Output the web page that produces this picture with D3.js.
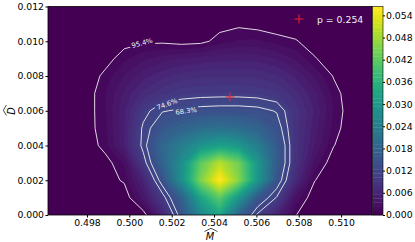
<!DOCTYPE html>
<html>
<head>
<meta charset="utf-8">
<script src="https://cdn.jsdelivr.net/npm/d3@7"></script>
<style>
  body { margin: 0; background: #fff; }
  text { font-family: "DejaVu Sans", sans-serif; }
</style>
</head>
<body>
<div id="chart"></div>
<script>
// density grid: columns step in M, rows step in D (row 0 is D = 0)
var mStart = 0.49616, mStep = 0.0009;
var dStart = 0, dStep = 0.001;

var row0  = [0, 0, 0, 0, 0, 0.0002, 0.006, 0.0145, 0.026, 0.033, 0.018, 0.0105, 0.006, 0.0012, 0, 0, 0, 0];
var row1  = [0, 0, 0, 0, 0, 0.004, 0.0098, 0.0175, 0.033, 0.042, 0.030, 0.0158, 0.0108, 0.003, 0, 0, 0, 0];
var row2  = [0, 0, 0, 0.0003, 0.0014, 0.006, 0.0145, 0.028, 0.045, 0.0564, 0.046, 0.030, 0.015, 0.007, 0.0012, 0, 0, 0];
var row3  = [0, 0, 0, 0.0004, 0.0025, 0.0098, 0.0178, 0.028, 0.042, 0.050, 0.044, 0.030, 0.0165, 0.0085, 0.003, 0, 0, 0];
var row4  = [0, 0, 0, 0.0018, 0.0055, 0.0118, 0.019, 0.024, 0.029, 0.032, 0.030, 0.024, 0.0165, 0.0085, 0.0045, 0.0012, 0, 0];
var row5  = [0, 0, 0.0004, 0.002, 0.0055, 0.0115, 0.0155, 0.018, 0.020, 0.021, 0.020, 0.018, 0.0145, 0.0085, 0.005, 0.0018, 0, 0];
var row6  = [0, 0, 0.0003, 0.0022, 0.0055, 0.010, 0.0128, 0.0134, 0.0139, 0.0141, 0.0141, 0.0138, 0.0128, 0.0085, 0.0055, 0.0022, 0, 0];
var row7  = [0, 0, 0.0003, 0.0022, 0.0048, 0.0072, 0.0088, 0.0098, 0.0101, 0.0102, 0.0102, 0.0100, 0.0092, 0.0072, 0.0048, 0.0018, 0, 0];
var row8  = [0, 0, 0, 0.0016, 0.0035, 0.0052, 0.0064, 0.0072, 0.0076, 0.0078, 0.0078, 0.0076, 0.0070, 0.0055, 0.0032, 0.0010, 0, 0];
var row9  = [0, 0, 0, 0.0004, 0.0020, 0.0032, 0.0040, 0.0046, 0.0050, 0.0053, 0.0054, 0.0052, 0.0045, 0.0032, 0.0013, 0, 0, 0];
var row10 = [0, 0, 0, 0, 0.0005, 0.0008, 0.0008, 0.0004, 0.0006, 0.0018, 0.0024, 0.0025, 0.0019, 0.0013, 0.0002, 0, 0, 0];
var row11 = [0, 0, 0, 0, 0, 0, 0, 0, 0, 0.0005, 0.0008, 0.00044, 0, 0, 0, 0, 0, 0];
var row12 = [0, 0, 0, 0, 0, 0, 0, 0, 0, 0, 0, 0, 0, 0, 0, 0, 0, 0];
var density = [row0, row1, row2, row3, row4, row5, row6, row7, row8, row9, row10, row11, row12];

// credible region contours
var lineLevels = [0.00115, 0.011, 0.013];
var lineLabels = ["95.4%", "74.6%", "68.3%"];
var labelM = [0.50060, 0.50178, 0.50268];
var labelD = [0.00990, 0.00639, 0.00599];
var labelAngle = [-15, -20, -8];

// best point
var pointM = 0.50475, pointD = 0.00679;
var legendText = "p = 0.254";

var xTicks = [0.498, 0.500, 0.502, 0.504, 0.506, 0.508, 0.510];
var yTicks = [0, 0.002, 0.004, 0.006, 0.008, 0.010, 0.012];
var cbTicks = [0, 0.006, 0.012, 0.018, 0.024, 0.030, 0.036, 0.042, 0.048, 0.054];
var zMax = 0.0564, nLevels = 50;

var W = 415, H = 242;
var plot = {left: 48, right: 372, top: 6.5, bottom: 215};
var cb = {left: 372.5, right: 383};

var svg = d3.select("#chart").append("svg")
    .attr("width", W)
    .attr("height", H);

var nx = density[0].length, ny = density.length;
var x = d3.scaleLinear().domain([mStart, mStart + (nx - 1) * mStep]).range([plot.left, plot.right]);
var y = d3.scaleLinear().domain([dStart, dStart + (ny - 1) * dStep]).range([plot.bottom, plot.top]);

var defs = svg.append("defs");
defs.append("clipPath").attr("id", "plotClip")
  .append("rect")
    .attr("x", plot.left).attr("y", plot.top)
    .attr("width", plot.right - plot.left).attr("height", plot.bottom - plot.top);

// grid coords -> screen (d3.contours puts sample k at k + 0.5)
var gridPath = d3.geoPath(d3.geoTransform({
  point: function(gx, gy) {
    this.stream.point(x(mStart + (gx - 0.5) * mStep), y(dStart + (gy - 0.5) * dStep));
  }
}));

var values = [].concat.apply([], density);
var fillLevels = d3.range(nLevels).map(function(k) { return k * zMax / nLevels; });
var color = function(k) { return d3.interpolateViridis(k / (nLevels - 1)); };

var g = svg.append("g").attr("clip-path", "url(#plotClip)");

g.selectAll("path.band")
    .data(d3.contours().size([nx, ny]).thresholds(fillLevels)(values))
  .enter().append("path")
    .attr("class", "band")
    .attr("d", gridPath)
    .attr("fill", function(d, k) { return color(k); })
    .attr("stroke", function(d, k) { return color(k); })
    .attr("stroke-width", 0.3);

// mask out gaps where the contour labels sit
var mask = defs.append("mask").attr("id", "labelGaps")
    .attr("maskUnits", "userSpaceOnUse")
    .attr("x", 0).attr("y", 0).attr("width", W).attr("height", H);
mask.append("rect").attr("width", W).attr("height", H).attr("fill", "white");
lineLabels.forEach(function(t, i) {
  mask.append("rect")
      .attr("transform", "translate(" + x(labelM[i]) + "," + y(labelD[i]) + ") rotate(" + labelAngle[i] + ")")
      .attr("x", -12.5).attr("y", -4.5).attr("width", 25).attr("height", 9)
      .attr("fill", "black");
});

g.append("g").attr("mask", "url(#labelGaps)")
  .selectAll("path.line")
    .data(d3.contours().size([nx, ny]).thresholds(lineLevels)(values))
  .enter().append("path")
    .attr("class", "line")
    .attr("d", gridPath)
    .attr("fill", "none")
    .attr("stroke", "#f2f2f2")
    .attr("stroke-width", 0.9);

lineLabels.forEach(function(t, i) {
  svg.append("text")
      .attr("transform", "translate(" + x(labelM[i]) + "," + y(labelD[i]) + ") rotate(" + labelAngle[i] + ")")
      .attr("text-anchor", "middle")
      .attr("dy", "0.35em")
      .attr("fill", "#f2f2f2")
      .style("font-size", "6.8px")
      .text(t);
});

// red cross for the point
function cross(sel, cx, cy) {
  sel.append("path")
      .attr("d", "M" + (cx - 4.5) + "," + cy + "H" + (cx + 4.5) + "M" + cx + "," + (cy - 4.5) + "V" + (cy + 4.5))
      .attr("stroke", "#e8222a")
      .attr("stroke-width", 1.1);
}
cross(svg, x(pointM), y(pointD));

// legend
cross(svg, 299, 19);
svg.append("text")
    .attr("x", 317).attr("y", 22.5)
    .attr("fill", "#f2f2f2")
    .style("font-size", "9.3px")
    .text(legendText);

// frame
svg.append("rect")
    .attr("x", plot.left).attr("y", plot.top)
    .attr("width", plot.right - plot.left).attr("height", plot.bottom - plot.top)
    .attr("fill", "none").attr("stroke", "#000").attr("stroke-width", 0.8);

// axes
var fmt = d3.format(".3f");
var xAxis = svg.append("g")
    .attr("transform", "translate(0," + plot.bottom + ")")
    .call(d3.axisBottom(x).tickValues(xTicks).tickFormat(fmt).tickSize(2.5).tickPadding(1.5).tickSizeOuter(0));
var yAxis = svg.append("g")
    .attr("transform", "translate(" + plot.left + ",0)")
    .call(d3.axisLeft(y).tickValues(yTicks).tickFormat(fmt).tickSize(2.5).tickPadding(1.5).tickSizeOuter(0));
[xAxis, yAxis].forEach(function(a) {
  a.select(".domain").remove();
  a.selectAll("text").style("font-size", "9.3px").attr("fill", "#000");
});

// axis labels with wide hats
svg.append("text")
    .attr("x", 210).attr("y", 240)
    .attr("text-anchor", "middle")
    .style("font-size", "9.8px").style("font-style", "italic")
    .text("M");
svg.append("path")
    .attr("d", "M204.5,231.5L211,228.3L217.5,231.5")
    .attr("fill", "none").attr("stroke", "#000").attr("stroke-width", 0.7);

var yl = svg.append("g").attr("transform", "translate(15,111) rotate(-90)");
yl.append("text")
    .attr("text-anchor", "middle")
    .style("font-size", "9.8px").style("font-style", "italic")
    .text("D");
yl.append("path")
    .attr("d", "M-4.5,-8.6L0.8,-11.6L6,-8.6")
    .attr("fill", "none").attr("stroke", "#000").attr("stroke-width", 0.7);

// colorbar
var cbY = d3.scaleLinear().domain([0, zMax]).range([plot.bottom, plot.top]);
svg.append("g").selectAll("rect")
    .data(fillLevels)
  .enter().append("rect")
    .attr("x", cb.left)
    .attr("width", cb.right - cb.left)
    .attr("y", function(d) { return cbY(d + zMax / nLevels); })
    .attr("height", function(d) { return cbY(d) - cbY(d + zMax / nLevels) + 0.3; })
    .attr("fill", function(d, k) { return color(k); });
svg.append("rect")
    .attr("x", cb.left).attr("y", plot.top)
    .attr("width", cb.right - cb.left).attr("height", plot.bottom - plot.top)
    .attr("fill", "none").attr("stroke", "#000").attr("stroke-width", 0.6);
var cbAxis = svg.append("g")
    .attr("transform", "translate(" + cb.right + ",0)")
    .call(d3.axisRight(cbY).tickValues(cbTicks).tickFormat(fmt).tickSize(2).tickPadding(1).tickSizeOuter(0));
cbAxis.select(".domain").remove();
cbAxis.selectAll("text").style("font-size", "9.3px").attr("fill", "#000");
</script>
</body>
</html>
